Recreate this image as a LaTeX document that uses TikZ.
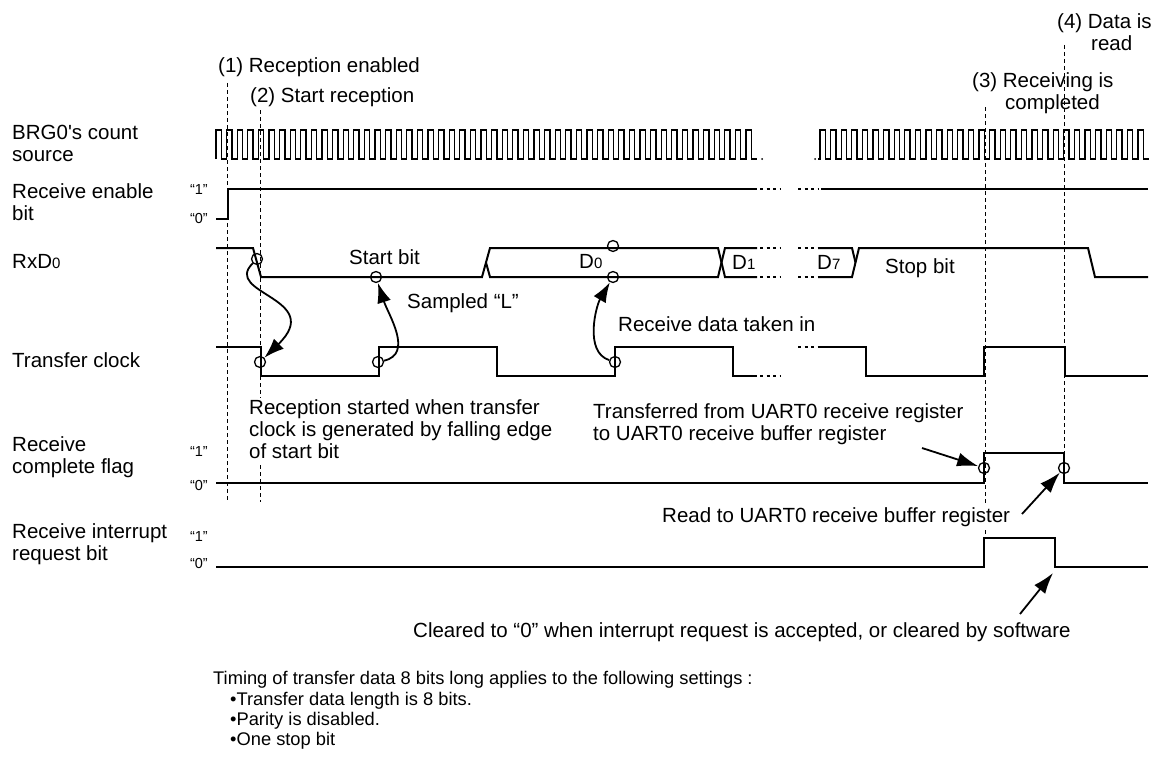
\documentclass[tikz,border=0pt]{standalone}
\usepackage{fontspec}
\setmainfont{Liberation Sans}
\usetikzlibrary{arrows.meta}
\newcommand\mysub[1]{{\fontsize{15}{15}\selectfont #1}}
\begin{document}
\begin{tikzpicture}[x=1pt,y=-1pt,
  sig/.style={line width=2pt},
  clk/.style={line width=1.3pt},
  guide/.style={line width=0.8pt, dash pattern=on 4pt off 3pt},
  elide/.style={line width=2pt, dash pattern=on 3pt off 3.5pt},
  ring/.style={circle, draw, line width=1.3pt, minimum size=11pt, inner sep=0pt},
  lbl/.style={font=\fontsize{20.5}{22}\selectfont, inner sep=0pt, anchor=west, align=left},
  lvl/.style={font=\fontsize{14.5}{16}\selectfont, inner sep=0pt, anchor=east},
  note/.style={font=\fontsize{18.3}{20.3}\selectfont, inner sep=0pt, anchor=west, align=left},
  curvy/.style={line width=1.8pt, -{Latex[length=20pt,width=14pt]}},
  ptr/.style={line width=1.8pt, -{Latex[length=21pt,width=14pt]}},
]
\useasboundingbox (0,0) rectangle (1160,760);

% guide lines
\draw[guide] (227,83) -- (227,502);
\draw[guide] (260,110) -- (260,398);
\draw[guide] (260,465) -- (260,502);
\draw[guide] (985,107) -- (985,503);
\draw[guide] (985,530) -- (985,538);
\draw[guide] (1064,45) -- (1064,483);

% top annotations
\node[lbl] (ann1) at (218,67) {(1) Reception enabled};
\node[lbl] (ann2) at (250,97) {(2) Start reception};
\node[lbl] (ann3) at (972,93) {(3) Receiving is\\\hspace*{33pt}completed};
\node[lbl] (ann4) at (1057,32) {(4) Data is\\\hspace*{34pt}read};

% left labels
\node[lbl] (lbrg) at (12,143.5) {BRG0\textquotesingle s count\\source};
\node[lbl] (len) at (12,202.5) {Receive enable\\bit};
\node[lbl] (lrxd) at (12,262) {RxD\mysub{0}};
\node[lbl] (ltc) at (12,360) {Transfer clock};
\node[lbl] (lfl) at (12,457) {Receive\\complete flag};
\node[lbl] (lir) at (12,544) {Receive interrupt\\request bit};

% level labels
\node[lvl] (en1) at (208,190) {“1”};
\node[lvl] (en0) at (208,219) {“0”};
\node[lvl] (fl1) at (208,452) {“1”};
\node[lvl] (fl0) at (208,486) {“0”};
\node[lvl] (ir1) at (208,537) {“1”};
\node[lvl] (ir0) at (208,564) {“0”};

% BRG0 count source
\draw[clk] (216,159) \foreach \k in {0,...,50} { -- ++(0,-29) -- ++(5.3,0) -- ++(0,29) -- ++(5.3,0) };
\fill (762,159) circle (1pt);
\fill (815,159) circle (1pt);
\draw[clk] (818,159) -- (820,159) \foreach \k in {1,...,31} { -- ++(0,-29) -- ++(5.3,0) -- ++(0,29) -- ++(5.3,0) };

% Receive enable bit
\draw[sig] (216,219) -- (228,219) -- (228,189) -- (757,189);
\draw[elide] (760,189) -- (780,189);
\draw[elide] (798,189) -- (818,189);
\draw[sig] (821,189) -- (1148,189);

% RxD0
\draw[sig] (216,248) -- (253,248) -- (261,277) -- (482,277) -- (490,248) -- (718,248) -- (725,277) -- (757,277);
\draw[sig] (486,262.5) -- (490,277) -- (718,277) -- (725,248) -- (757,248);
\draw[elide] (760,248) -- (780,248);
\draw[elide] (760,277) -- (780,277);
\draw[elide] (798,248) -- (818,248);
\draw[elide] (798,277) -- (818,277);
\draw[sig] (818,248) -- (852,248) -- (855.5,262.5);
\draw[sig] (818,277) -- (852,277) -- (859,248) -- (1088,248) -- (1095,277) -- (1148,277);
\node[lbl] (tsb) at (349,257) {Start bit};
\node[lbl] (tstop) at (885,268) {Stop bit};
\node[lbl] (td0) at (579,262) {D\mysub{0}};
\node[lbl] (td1) at (732,262) {D\mysub{1}};
\node[lbl] (td7) at (817,262) {D\mysub{7}};

% Transfer clock
\draw[sig] (216,347) -- (261,347) -- (261,376) -- (379,376) -- (379,347) -- (497,347) -- (497,376) -- (615,376) -- (615,347) -- (733,347) -- (733,376) -- (757,376);
\draw[elide] (760,376) -- (780,376);
\draw[elide] (798,347) -- (818,347);
\draw[sig] (818,347) -- (866,347) -- (866,376) -- (984,376) -- (984,347) -- (1065,347) -- (1065,376) -- (1148,376);

% Receive complete flag
\draw[sig] (216,483) -- (984,483) -- (984,453) -- (1064,453) -- (1064,483) -- (1148,483);
% Receive interrupt request bit
\draw[sig] (216,567) -- (984,567) -- (984,538) -- (1055,538) -- (1055,567) -- (1148,567);

% sampling circles
\node[ring] (r1) at (257,259) {};
\node[ring] (r2) at (376,277) {};
\node[ring] (r3t) at (613,246) {};
\node[ring] (r3b) at (613,277) {};
\node[ring] (t1) at (260,362) {};
\node[ring] (t2) at (378,362) {};
\node[ring] (t3) at (615,362) {};
\node[ring] (f1) at (984,468) {};
\node[ring] (f2) at (1064,468) {};

% curved arrows
\draw[curvy] (r1) .. controls (222,294) and (326,298) .. (t1);
\draw[curvy] (t2) .. controls (414,354) and (388,314) .. (r2);
\draw[curvy] (t3) .. controls (584,352) and (596,306) .. (r3b);

\node[lbl] (tsamp) at (407,303) {Sampled “L”};
\node[lbl] (trdti) at (618,324) {Receive data taken in};
\node[lbl] (trs) at (249,429) {Reception started when transfer\\clock is generated by falling edge\\of start bit};
\node[lbl] (ttf) at (593,424.5) {Transferred from UART0 receive register\\to UART0 receive buffer register};
\node[lbl] (trd) at (662,517) {Read to UART0 receive buffer register};
\node[lbl] (tclr) at (413,632) {Cleared to “0” when interrupt request is accepted, or cleared by software};

% straight arrows
\coordinate (a1) at (922,448);
\coordinate (a2) at (1022,514);
\coordinate (a3) at (1020,614);
\coordinate (irqfall) at (1053,573);
\draw[ptr] (a1) -- (f1);
\draw[ptr] (a2) -- (f2);
\draw[ptr] (a3) -- (irqfall);

% note
\node[note] (tnote) at (213,710.5) {Timing of transfer data 8 bits long applies to the following settings :\\\hspace*{17pt}•Transfer data length is 8 bits.\\\hspace*{17pt}•Parity is disabled.\\\hspace*{17pt}•One stop bit};
\end{tikzpicture}
\end{document}
